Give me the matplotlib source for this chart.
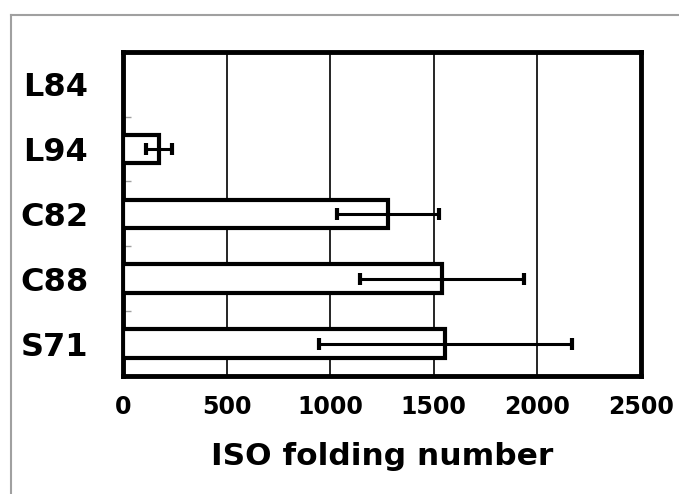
import matplotlib.pyplot as plt
from matplotlib.lines import Line2D

samples = ["L84", "L94", "C82", "C88", "S71"]
folding_mean = [0, 175, 1280, 1540, 1555]
folding_err = [0, 64, 245, 395, 610]
x_ticks = [0, 500, 1000, 1500, 2000, 2500]

fig = plt.figure(figsize=(6.79, 4.94), dpi=100)
ax = fig.add_axes([0.181, 0.239, 0.763, 0.656])

pos = list(range(len(samples)))
ax.barh(pos, folding_mean, height=0.44, color="white", edgecolor="black",
        linewidth=3, zorder=3)
ax.errorbar(folding_mean[1:], pos[1:], xerr=folding_err[1:], fmt="none",
            ecolor="black", elinewidth=2.2, capsize=4, capthick=3, zorder=4)

ax.set_xlim(0, 2500)
ax.set_ylim(4.5, -0.5)
ax.set_xticks(x_ticks)
ax.set_xticklabels([str(t) for t in x_ticks], fontsize=17, fontweight="bold")
ax.set_yticks(pos)
ax.set_yticklabels(samples, fontsize=23, fontweight="bold")
ax.tick_params(axis="x", length=0, pad=14)
ax.tick_params(axis="y", length=0, pad=25)
ax.set_yticks([p + 0.5 for p in pos[:-1]], minor=True)
ax.tick_params(axis="y", which="minor", length=6, direction="in",
               color="#a0a0a0", width=1)
ax.grid(axis="x", color="black", linewidth=1.2, zorder=0)
ax.set_axisbelow(True)
for s in ax.spines.values():
    s.set_linewidth(3.5)
    s.set_color("black")
ax.set_xlabel("ISO folding number", fontsize=22.5, fontweight="bold", labelpad=16)

# outer chart frame
fig.add_artist(Line2D([11 / 679, 11 / 679], [0, 1 - 15 / 494],
                      color="#a0a0a0", linewidth=1.5))
fig.add_artist(Line2D([11 / 679, 1], [1 - 15 / 494, 1 - 15 / 494],
                      color="#a0a0a0", linewidth=1.5))

fig.savefig("out.png", dpi=100)
